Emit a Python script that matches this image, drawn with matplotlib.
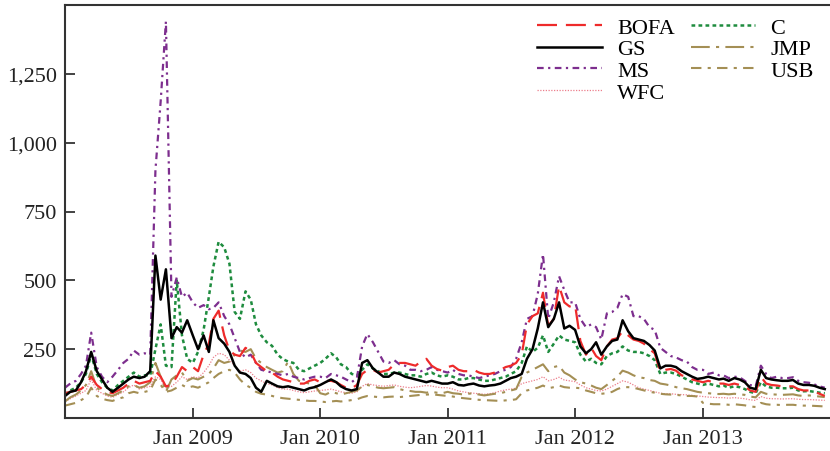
import matplotlib
matplotlib.use("Agg")
import matplotlib.pyplot as plt
import matplotlib.dates as mdates
import matplotlib.ticker as mticker
import numpy as np
import pandas as pd

plt.rcParams['font.family'] = ['Liberation Serif', 'DejaVu Serif']

# half-month grid (1st and 16th of each month), Jan 2008 - Dec 2013
dates = pd.to_datetime([f"{y}-{m:02d}-{d:02d}" for y in range(2008, 2014)
                        for m in range(1, 13) for d in (1, 16)])

# CDS spreads (bp), 24 values per year
bofa = [90, 95, 100, 105, 120, 150, 120, 105, 95, 90, 100, 110, 125, 135, 125, 130, 135, 170, 150, 115, 120, 150, 185, 170,
        185, 170, 230, 270, 360, 390, 300, 245, 230, 225, 255, 240, 200, 185, 170, 165, 150, 140, 135, 130, 125, 125, 135, 140,
        130, 135, 135, 130, 120, 110, 108, 120, 160, 175, 175, 165, 170, 175, 195, 200, 200, 195, 190, 205, 215, 190, 178, 172,
        185, 190, 175, 170, 170, 175, 165, 160, 160, 165, 175, 185, 190, 200, 230, 340, 370, 380, 455, 335, 360, 480, 420, 405,
        410, 280, 230, 255, 225, 210, 260, 285, 290, 315, 300, 285, 280, 270, 250, 235, 168, 175, 178, 172, 155, 150, 140, 135,
        130, 135, 130, 125, 125, 120, 125, 120, 115, 100, 95, 150, 125, 120, 118, 115, 115, 115, 105, 100, 100, 95, 88, 80]
gs = [80, 95, 100, 130, 170, 240, 170, 140, 110, 95, 110, 125, 140, 150, 145, 150, 170, 590, 430, 540, 290, 330, 310, 355,
      300, 250, 300, 240, 355, 290, 270, 240, 190, 165, 160, 145, 110, 95, 135, 125, 115, 112, 115, 110, 105, 100, 108, 112,
      120, 130, 140, 130, 115, 105, 100, 105, 200, 210, 180, 165, 150, 150, 165, 160, 150, 145, 140, 135, 130, 135, 130, 125,
      125, 130, 120, 118, 122, 125, 118, 115, 118, 120, 125, 135, 145, 150, 160, 215, 250, 325, 420, 330, 360, 420, 325, 335,
      320, 260, 235, 250, 275, 230, 260, 280, 285, 355, 315, 290, 285, 280, 265, 245, 180, 190, 190, 185, 170, 160, 150, 142,
      145, 150, 145, 140, 143, 135, 145, 140, 130, 110, 105, 175, 145, 140, 137, 135, 135, 138, 125, 120, 120, 117, 110, 105]
ms = [110, 125, 135, 160, 190, 310, 185, 150, 130, 150, 175, 200, 215, 245, 230, 235, 230, 900, 1150, 1440, 440, 510, 440, 455,
      420, 400, 410, 395, 400, 420, 370, 340, 290, 240, 220, 230, 200, 175, 170, 165, 160, 155, 160, 150, 145, 140, 145, 150,
      150, 145, 160, 155, 150, 140, 130, 145, 260, 305, 275, 240, 205, 200, 210, 195, 190, 175, 175, 170, 175, 185, 175, 170,
      165, 175, 160, 155, 155, 150, 145, 150, 155, 160, 170, 175, 185, 215, 275, 360, 370, 450, 595, 360, 420, 515, 465, 420,
      420, 360, 330, 340, 330, 285, 380, 385, 400, 450, 440, 370, 370, 360, 330, 320, 255, 240, 225, 220, 210, 205, 185, 175,
      175, 160, 165, 155, 155, 145, 150, 148, 135, 120, 115, 190, 160, 145, 150, 145, 145, 148, 135, 130, 128, 122, 115, 110]
wfc = [60, 70, 80, 90, 100, 140, 100, 90, 80, 75, 85, 95, 110, 120, 105, 110, 115, 150, 140, 110, 115, 130, 150, 140,
       150, 145, 165, 190, 220, 235, 230, 210, 190, 170, 175, 165, 145, 135, 125, 120, 110, 105, 105, 100, 95, 92, 95, 98,
       100, 102, 105, 100, 95, 92, 90, 95, 115, 125, 120, 118, 115, 118, 120, 115, 112, 110, 112, 115, 118, 116, 112, 110,
       110, 105, 98, 95, 92, 90, 88, 86, 88, 92, 98, 102, 105, 108, 125, 130, 135, 140, 150, 135, 140, 148, 138, 135,
       132, 120, 110, 105, 100, 98, 105, 115, 125, 135, 130, 120, 110, 105, 100, 95, 90, 88, 88, 86, 85, 84, 82, 80,
       78, 76, 75, 74, 74, 72, 74, 72, 70, 66, 64, 78, 72, 70, 70, 69, 70, 70, 68, 67, 67, 66, 65, 64]
c = [85, 100, 110, 130, 160, 230, 160, 130, 110, 100, 120, 135, 150, 165, 150, 155, 155, 250, 340, 190, 185, 500, 300, 215,
     200, 240, 320, 440, 550, 640, 620, 560, 385, 360, 460, 430, 340, 300, 275, 262, 230, 214, 205, 200, 175, 170, 180, 190,
     200, 215, 235, 220, 195, 185, 160, 155, 175, 195, 180, 170, 160, 160, 165, 165, 160, 155, 155, 150, 160, 165, 155, 150,
     155, 150, 140, 140, 145, 145, 140, 135, 135, 140, 145, 150, 160, 170, 200, 260, 240, 255, 300, 240, 270, 300, 285, 280,
     275, 230, 205, 215, 200, 195, 225, 235, 240, 260, 245, 240, 240, 235, 225, 210, 160, 165, 165, 160, 150, 140, 130, 125,
     120, 125, 120, 115, 118, 110, 115, 112, 105, 95, 90, 130, 115, 110, 110, 108, 108, 110, 100, 97, 98, 95, 92, 90]
jmp = [60, 75, 85, 100, 120, 170, 110, 95, 85, 80, 90, 100, 115, 120, 110, 115, 130, 200, 150, 95, 140, 155, 165, 135,
       145, 140, 150, 160, 180, 210, 200, 205, 230, 245, 240, 250, 215, 200, 185, 175, 165, 170, 205, 160, 135, 130, 125, 120,
       90, 85, 95, 90, 85, 90, 95, 100, 115, 120, 115, 110, 108, 110, 112, 105, 100, 98, 95, 95, 92, 95, 92, 90,
       95, 90, 88, 85, 88, 90, 85, 82, 85, 88, 90, 95, 100, 105, 150, 165, 175, 185, 195, 170, 185, 190, 165, 155,
       140, 130, 125, 118, 110, 105, 120, 135, 150, 172, 165, 155, 148, 145, 138, 135, 125, 122, 118, 112, 108, 105, 100, 95,
       92, 90, 88, 87, 88, 86, 88, 86, 84, 78, 75, 95, 88, 86, 85, 84, 85, 86, 82, 80, 82, 80, 78, 76]
usb = [45, 50, 55, 65, 75, 110, 80, 70, 65, 62, 70, 75, 90, 95, 90, 95, 100, 140, 120, 95, 100, 110, 120, 110,
       115, 110, 120, 130, 145, 160, 170, 175, 165, 140, 120, 110, 95, 88, 85, 80, 75, 72, 70, 68, 66, 64, 62, 62,
       60, 58, 60, 62, 60, 62, 65, 68, 75, 80, 78, 76, 75, 77, 78, 76, 78, 80, 82, 84, 85, 86, 84, 82,
       80, 78, 74, 72, 70, 68, 66, 65, 64, 63, 62, 64, 65, 68, 90, 100, 105, 110, 118, 108, 112, 118, 112, 110,
       110, 108, 100, 95, 90, 88, 90, 95, 105, 112, 112, 110, 105, 100, 95, 92, 88, 86, 85, 84, 82, 80, 80, 78,
       55, 52, 50, 50, 50, 48, 50, 48, 46, 42, 40, 55, 50, 48, 48, 47, 48, 48, 46, 45, 45, 44, 43, 42]

khaki = "#a48f55"
series = {
    "BOFA": (bofa, dict(color="#ee2b2b", lw=1.6, dashes=(9, 4))),
    "GS": (gs, dict(color="black", lw=1.8, linestyle="-")),
    "MS": (ms, dict(color="#7d2e8e", lw=1.6, dashes=(3, 2, 1, 2))),
    "WFC": (wfc, dict(color="#ec7f8c", lw=0.9, dashes=(1, 1.2))),
    "C": (c, dict(color="#1e8c3e", lw=1.8, dashes=(1.5, 1.3))),
    "JMP": (jmp, dict(color=khaki, lw=1.5, dashes=(9, 3, 1.5, 3))),
    "USB": (usb, dict(color=khaki, lw=1.5, dashes=(5, 3, 1.5, 3))),
}

fig = plt.figure(figsize=(8.3, 4.52), dpi=100)
ax = fig.add_axes([65/830, 33/452, 765/830, 413/452])

handles = {}
for name in ["WFC", "USB", "JMP", "C", "MS", "BOFA", "GS"]:
    vals, style = series[name]
    handles[name], = ax.plot(dates, vals, label=name, **style)

ax.set_xlim(pd.Timestamp("2008-01-01"), pd.Timestamp("2013-12-31"))
ax.set_ylim(0, 1500)
ax.set_yticks([250, 500, 750, 1000, 1250])
ax.yaxis.set_major_formatter(mticker.FuncFormatter(lambda v, p: f"{int(v):,}"))
ax.set_xticks(pd.to_datetime(["2009-01-01", "2010-01-01", "2011-01-01", "2012-01-01", "2013-01-01"]))
ax.xaxis.set_major_formatter(mdates.DateFormatter("%b %Y"))

ax.tick_params(direction="in", length=7, width=1.2, colors="#222222", labelsize=16, pad=8)
ax.tick_params(axis="y", pad=6)
for s in ["left", "bottom", "top"]:
    ax.spines[s].set_linewidth(1.5)
    ax.spines[s].set_color("#333333")
ax.spines["right"].set_visible(False)

order = ["BOFA", "GS", "MS", "WFC", "C", "JMP", "USB"]
ax.legend([handles[n] for n in order], order, loc="upper right", ncol=2, frameon=False,
          fontsize=16, handlelength=2.9, handletextpad=0.7, labelspacing=0.05,
          columnspacing=0.7, borderaxespad=0.15, bbox_to_anchor=(0.995, 1.0))

fig.savefig("out.png", dpi=100)
